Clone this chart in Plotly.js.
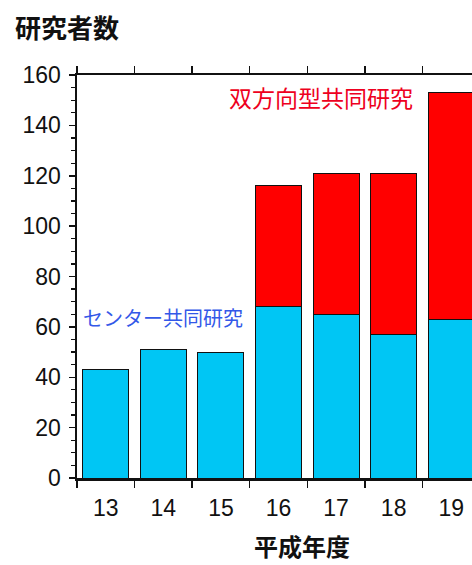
<!DOCTYPE html>
<html>
<head>
<meta charset="utf-8">
<script src="https://cdn.plot.ly/plotly-3.0.1.min.js"></script>
<style>
  html, body { margin: 0; padding: 0; background: #fff; overflow: hidden; }
  #wrap { width: 472px; height: 565px; overflow: hidden; }
  #chart { width: 500px; height: 565px; }
</style>
</head>
<body>
<div id="wrap"><div id="chart"></div></div>
<script>
// 平成年度ごとの研究者数
const years = ['13', '14', '15', '16', '17', '18', '19'];
const centerJoint = [43, 51, 50, 68, 65, 57, 63];        // センター共同研究
const bidirectionalJoint = [0, 0, 0, 48, 56, 64, 90];    // 双方向型共同研究

const W = 500, H = 565;
const L = 77, T = 75, R = 20, B = 87;
const pw = W - L - R, ph = H - T - B;
// pixel position -> paper coordinates
const px = x => (x - L) / pw;
const py = y => (H - B - y) / ph;

const numFont = { family: 'Liberation Sans, Arial, sans-serif', size: 23, color: '#111' };
const jpFont = 'Noto Sans CJK JP, sans-serif';

const traces = [
  {
    type: 'bar', x: years, y: centerJoint, name: 'センター共同研究',
    marker: { color: '#00C6F4', line: { color: '#111', width: 1 } },
    hoverinfo: 'none'
  },
  {
    type: 'bar', x: years, y: bidirectionalJoint, name: '双方向型共同研究',
    marker: { color: '#FF0000', line: { color: '#111', width: 1 } },
    hoverinfo: 'none'
  }
];

const layout = {
  width: W, height: H,
  margin: { l: L, r: R, t: T, b: B, pad: 0 },
  paper_bgcolor: '#fff', plot_bgcolor: '#fff',
  barmode: 'stack', bargap: 0.2,
  showlegend: false,
  xaxis: {
    type: 'category', tickson: 'boundaries',
    ticks: 'outside', ticklen: 7, tickwidth: 1.5, tickcolor: '#111',
    showline: true, linecolor: '#111', linewidth: 2.5, mirror: 'ticks',
    showgrid: false, zeroline: false,
    tickfont: numFont, ticklabelstandoff: 8
  },
  yaxis: {
    range: [0, 160], dtick: 20,
    ticks: 'outside', ticklen: 6, tickwidth: 1.5, tickcolor: '#111',
    minor: { dtick: 5, ticks: 'outside', ticklen: 4, tickwidth: 1.2, tickcolor: '#111' },
    showline: true, linecolor: '#111', linewidth: 2.5, mirror: 'ticks',
    showgrid: false, zeroline: false,
    tickfont: numFont, ticklabelstandoff: 3
  },
  annotations: [
    {
      text: '<b>研究者数</b>', xref: 'paper', yref: 'paper',
      x: px(67), y: py(27), xanchor: 'center', yanchor: 'middle',
      showarrow: false, font: { family: jpFont, size: 26, color: '#111' }
    },
    {
      text: '<b>平成年度</b>', xref: 'paper', yref: 'paper',
      x: px(302), y: py(545), xanchor: 'center', yanchor: 'middle',
      showarrow: false, font: { family: jpFont, size: 24, color: '#111' }
    },
    {
      text: '双方向型共同研究', xref: 'paper', yref: 'paper',
      x: px(320.5), y: py(97), xanchor: 'center', yanchor: 'middle',
      showarrow: false, font: { family: jpFont, size: 23, color: '#EE0020' }
    },
    {
      text: 'センター共同研究', xref: 'paper', yref: 'paper',
      x: px(163), y: py(317), xanchor: 'center', yanchor: 'middle',
      showarrow: false, font: { family: jpFont, size: 20, color: '#3358E8' }
    }
  ]
};

Plotly.newPlot('chart', traces, layout, { staticPlot: true, displayModeBar: false });
</script>
</body>
</html>
